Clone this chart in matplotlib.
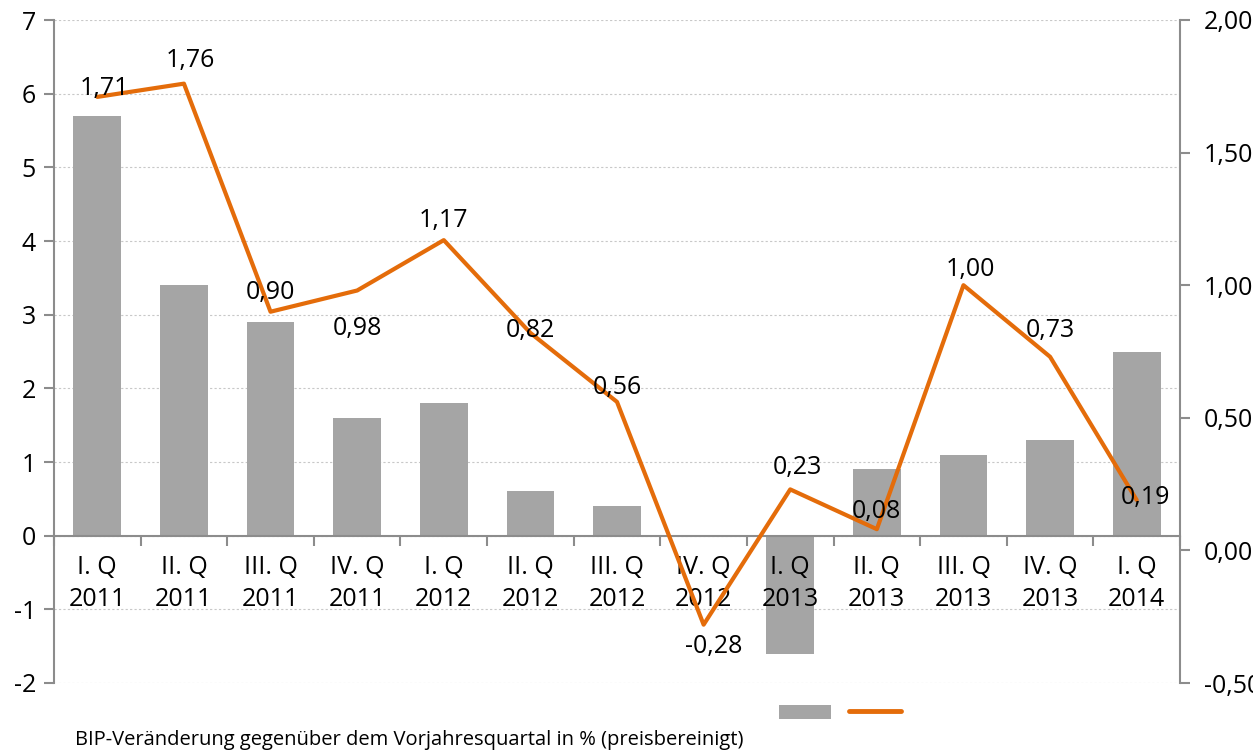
import matplotlib
matplotlib.use("Agg")
import matplotlib.pyplot as plt
from matplotlib.patches import Patch
from matplotlib.lines import Line2D
from matplotlib.ticker import FuncFormatter

plt.rcParams['font.family'] = ['Open Sans', 'DejaVu Sans']
plt.rcParams['axes.unicode_minus'] = False

# data
quarters = ['I. Q\n2011', 'II. Q\n2011', 'III. Q\n2011', 'IV. Q\n2011',
            'I. Q\n2012', 'II. Q\n2012', 'III. Q\n2012', 'IV. Q\n2012',
            'I. Q\n2013', 'II. Q\n2013', 'III. Q\n2013', 'IV. Q\n2013',
            'I. Q\n2014']
yoy_change = [5.7, 3.4, 2.9, 1.6, 1.8, 0.6, 0.4, 0.0, -1.6, 0.9, 1.1, 1.3, 2.5]
qoq_change = [1.71, 1.76, 0.90, 0.98, 1.17, 0.82, 0.56, -0.28, 0.23, 0.08, 1.00, 0.73, 0.19]

# label offsets in points (dx, dy) relative to each line point
lbl_off = [(5, 6), (5, 17), (0, 14), (0, -27), (0, 14), (0, 2), (0, 10),
           (7, -16), (5, 16), (0, 13), (5, 11), (0, 19), (6, 2)]

GRAY = '#a5a5a5'
ORANGE = '#e46c0a'
AXC = '#8c8c8c'
FS = 18

fig = plt.figure(figsize=(12.53, 7.51), dpi=100)
ax = fig.add_axes([54/1253, 68/751, 1126/1253, 663/751])
x = list(range(len(quarters)))

# dotted grid drawn by hand so tick labels can sit above the bars
for gy in range(-2, 8):
    ax.axhline(gy, linestyle=(0, (2, 2)), color='#c8c8c8', linewidth=0.8, zorder=0)
ax.bar(x, yoy_change, width=0.55, color=GRAY, zorder=1)
ax.set_xlim(-0.5, len(quarters) - 0.5)
ax.set_ylim(-2, 7)
ax.set_yticks(range(-2, 8))

ax.spines['top'].set_visible(False)
ax.spines['right'].set_visible(False)
ax.spines['left'].set_color(AXC)
ax.spines['left'].set_linewidth(1.5)
ax.spines['bottom'].set_position(('data', 0))
ax.spines['bottom'].set_color(AXC)
ax.spines['bottom'].set_linewidth(1.5)

ax.set_xticks(x)
ax.set_xticklabels(quarters, fontsize=FS, linespacing=1.35)
ax.set_xticks([i - 0.5 for i in range(len(quarters) + 1)], minor=True)
ax.tick_params(axis='x', which='major', length=0, pad=14)
ax.tick_params(axis='x', which='minor', length=7, color=AXC, width=1.5)
ax.tick_params(axis='y', length=7, color=AXC, width=1.5, labelsize=FS, pad=6)

ax2 = ax.twinx()
ax2.plot(x, qoq_change, color=ORANGE, linewidth=3, solid_capstyle='round', zorder=3)
ax2.set_ylim(-0.5, 2.0)
ax2.set_yticks([-0.5, 0, 0.5, 1.0, 1.5, 2.0])
ax2.yaxis.set_major_formatter(FuncFormatter(lambda v, p: ('%.2f' % v).replace('.', ',')))
ax2.tick_params(axis='y', length=7, color=AXC, width=1.5, labelsize=FS, pad=10)
for s in ['top', 'left', 'bottom']:
    ax2.spines[s].set_visible(False)
ax2.spines['right'].set_color(AXC)
ax2.spines['right'].set_linewidth(1.5)

for i, v in enumerate(qoq_change):
    ax2.annotate(('%.2f' % v).replace('.', ','), (i, v), xytext=lbl_off[i],
                 textcoords='offset points', ha='center', va='center',
                 fontsize=FS, color='black', zorder=4)

handles = [Patch(facecolor=GRAY, edgecolor='none'),
           Line2D([0], [0], color=ORANGE, linewidth=3.5, solid_capstyle='round')]
fig.legend(handles, ['', ''], loc='center', bbox_to_anchor=(840/1253, 1 - 713/751),
           ncol=2, frameon=False, fontsize=13, handlelength=2.9, handleheight=0.8,
           handletextpad=0, columnspacing=1.0)

fig.text(75/1253, 1 - 740/751, 'BIP-Veränderung gegenüber dem Vorjahresquartal in % (preisbereinigt)',
         fontsize=14.5, va='center', ha='left')

plt.savefig('out.png', dpi=100)
